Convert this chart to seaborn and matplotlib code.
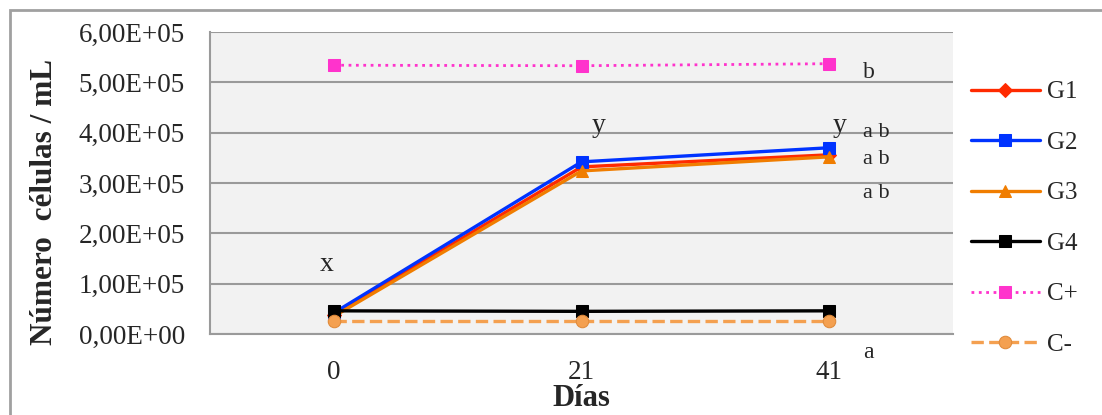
import pandas as pd
import matplotlib.pyplot as plt
import seaborn as sns
from matplotlib.ticker import FuncFormatter
from matplotlib.patches import Rectangle

# Datos
dias = ["0", "21", "41"]
g1 = [3.8e4, 3.32e5, 3.56e5]
g2 = [4.2e4, 3.42e5, 3.70e5]
g3 = [3.5e4, 3.24e5, 3.52e5]
g4 = [4.6e4, 4.5e4, 4.6e4]
c_pos = [5.34e5, 5.33e5, 5.37e5]
c_neg = [2.6e4, 2.6e4, 2.6e4]

series = ["G1", "G2", "G3", "G4", "C+", "C-"]
valores = [g1, g2, g3, g4, c_pos, c_neg]
colores = ["#FF2A00", "#0033FF", "#F07D00", "#000000", "#FF33CC", "#F4A050"]
marcadores = ["D", "s", "^", "s", "s", "o"]
estilos = ["-", "-", "-", "-", ":", "--"]

df = pd.concat(
    [pd.DataFrame({"dia": dias, "celulas": v, "grupo": s}) for s, v in zip(series, valores)],
    ignore_index=True,
)

sns.set_style("white")
plt.rcParams["font.family"] = ["Liberation Serif", "DejaVu Serif"]

fig = plt.figure(figsize=(11.02, 4.15), dpi=100)
ax = fig.add_axes([0.1906, 0.1952, 0.6742, 0.7277])
ax.set_facecolor("#F2F2F2")

for s, col, mk, ls in zip(series, colores, marcadores, estilos):
    sub = df[df["grupo"] == s]
    lw = 2.0 if ls == ":" else 2.4
    ms = 9 if mk != "D" else 7
    mec = "#E08A3A" if s == "C-" else col
    sns.lineplot(data=sub, x="dia", y="celulas", ax=ax, color=col, marker=mk,
                 linestyle=ls, linewidth=lw, markersize=ms, markeredgecolor=mec,
                 label=s, zorder=3)

ax.set_xlim(-0.5, 2.5)
ax.set_ylim(0, 6e5)
ax.set_yticks([i * 1e5 for i in range(7)])
ax.yaxis.set_major_formatter(FuncFormatter(lambda v, p: f"{v:.2E}".replace(".", ",")))
ax.grid(axis="y", color="#9A9A9A", linewidth=1.5)
ax.set_axisbelow(True)
for sp in ["top", "right"]:
    ax.spines[sp].set_visible(False)
ax.spines["left"].set_color("#9A9A9A")
ax.spines["left"].set_linewidth(1.5)
ax.spines["bottom"].set_color("#9A9A9A")
ax.spines["bottom"].set_linewidth(1.5)
ax.tick_params(axis="y", length=8, width=1.5, color="#9A9A9A", labelsize=19.5, pad=10)
ax.tick_params(axis="x", length=0, labelsize=19.5, pad=19)

ax.set_xlabel("Días", fontsize=22, fontweight="bold", labelpad=-1)
ax.set_ylabel("Número  células / mL", fontsize=22.5, fontweight="bold")
ax.yaxis.set_label_coords(-0.203, 0.437)

# letras de significancia
ax.text(-0.03, 1.38e5, "x", fontsize=20, ha="center", va="center")
ax.text(1.07, 4.15e5, "y", fontsize=20, ha="center", va="center")
ax.text(2.04, 4.15e5, "y", fontsize=20, ha="center", va="center")
ax.text(2.16, 5.2e5, "b", fontsize=17, ha="center", va="center")
for yy in [4.0e5, 3.46e5, 2.8e5]:
    ax.text(2.19, yy, "a b", fontsize=16, ha="center", va="center")
ax.text(2.16, -0.36e5, "a", fontsize=17, ha="center", va="center", clip_on=False)

leg = ax.legend(loc="upper left", bbox_to_anchor=(1.024, 0.838), frameon=False,
                fontsize=18, handlelength=2.76, labelspacing=1.12, handletextpad=0.3,
                borderpad=0, borderaxespad=0)

fig.patches.append(Rectangle((0.009, -0.05), 1.1, 1.025, transform=fig.transFigure,
                             fill=False, edgecolor="#A0A0A0", linewidth=2))

fig.savefig("out.png", dpi=100)
